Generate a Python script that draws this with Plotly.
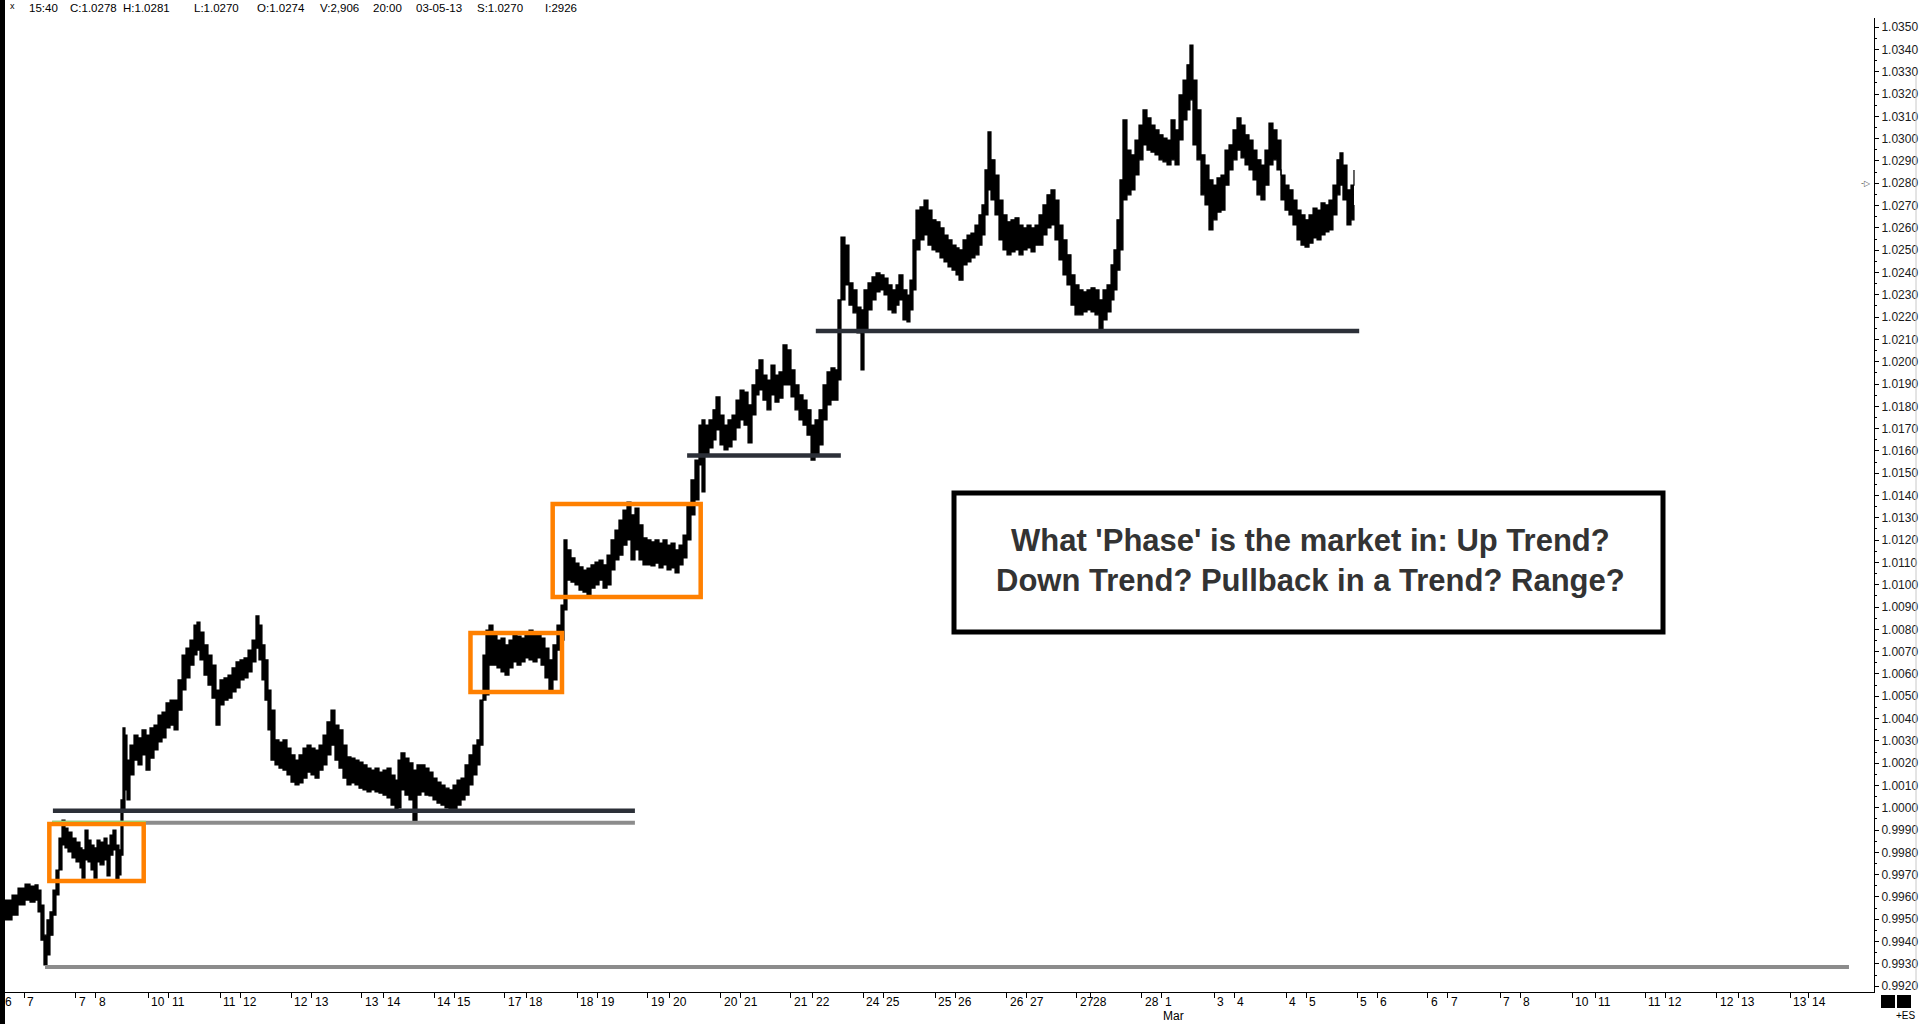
import plotly.graph_objects as go

# ---------------- data (time in trading days from start, prices) ----------------
T = [0.000,0.098,0.182,0.280,0.350,0.420,0.462,0.503,0.545,0.587,
     0.629,0.671,0.713,0.755,0.797,0.839,0.881,0.937,0.993,1.049,
     1.077,1.119,1.161,1.203,1.245,1.287,1.329,1.385,1.427,1.469,
     1.510,1.552,1.594,1.622,1.650,1.678,1.706,1.748,1.804,1.860,
     1.916,1.972,2.028,2.084,2.140,2.196,2.252,2.308,2.364,2.420,
     2.476,2.531,2.587,2.643,2.685,2.727,2.783,2.839,2.895,2.951,
     3.007,3.063,3.119,3.175,3.231,3.287,3.343,3.399,3.455,3.510,
     3.552,3.594,3.636,3.678,3.720,3.776,3.832,3.888,3.944,4.000,
     4.056,4.112,
     4.168,4.224,4.280,4.336,4.392,4.448,4.503,4.559,4.615,4.671,
     4.727,4.783,4.839,4.895,4.951,5.007,5.063,5.119,5.175,5.231,
     5.287,5.343,5.399,5.455,5.497,5.538,5.594,5.650,5.706,5.762,
     5.818,5.874,5.930,5.986,6.042,6.098,6.154,6.210,6.266,6.322,
     6.378,6.434,6.490,6.545,6.601,6.643,6.685,6.727,6.769,6.825,
     6.881,6.937,6.993,7.049,7.105,7.161,7.217,7.273,7.329,7.385,
     7.441,7.497,7.552,7.608,7.664,7.720,7.776,
     7.818,7.860,7.916,7.972,8.028,8.084,8.140,8.196,8.252,8.308,
     8.364,8.420,8.476,8.531,8.587,8.643,8.699,8.755,8.811,8.867,
     8.923,8.979,9.035,9.091,9.147,9.203,9.259,9.315,9.371,9.427,
     9.483,9.538,
     9.594,9.650,9.706,9.748,9.790,9.846,9.902,9.944,10.000,10.056,
     10.112,10.168,10.224,10.280,10.336,10.392,10.448,10.503,10.545,10.601,
     10.657,10.713,10.769,10.825,10.881,10.937,10.993,11.049,11.105,11.161,
     11.217,11.273,11.329,11.385,11.441,11.497,11.552,11.608,11.650,11.692,
     11.748,11.804,11.860,11.916,11.972,12.014,12.070,12.126,12.182,12.238,
     12.294,12.350,12.406,12.462,12.503,12.559,12.615,12.657,12.699,12.741,
     12.797,12.853,12.909,12.965,13.021,13.077,13.133,13.189,13.245,13.301,
     13.343,13.399,13.455,13.510,13.566,13.622,13.664,13.706,13.748,13.790,
     13.846,13.902,13.958,14.014,14.070,14.126,14.182,14.238,14.294,14.350,
     14.406,14.462,14.517,14.573,14.629,14.685,14.741,14.797,14.853,14.909,
     14.965,15.021,15.077,15.133,15.189,15.245,15.301,15.357,15.413,15.469,
     15.510,15.552,15.594,15.636,15.692,15.748,15.804,15.860,15.916,15.972,
     16.028,16.084,16.140,16.196,16.252,16.308,16.364,16.420,16.476,16.531,
     16.573,16.615,16.671,16.727,16.783,16.839,16.895,16.951,17.007,17.063,
     17.119,17.175,17.231,17.287,17.343,17.399,17.455,17.510,17.566,17.622,
     17.678,17.734,17.790,17.846,17.902,17.958,18.014,18.070,18.126,18.182,
     18.238,18.294,18.350,18.406,18.462,18.517,18.573,18.629,18.671,18.713,
     18.769,18.825,18.867]

HIGH = [0.99586,0.99609,0.99640,0.99658,0.99649,0.99654,0.99631,0.99564,0.99429,0.99497,
        0.99533,0.99631,0.99721,0.99864,0.99945,0.99909,0.99891,0.99864,0.99846,0.99820,
        0.99811,0.99900,0.99855,0.99833,0.99820,0.99855,0.99846,0.99864,0.99833,0.99878,
        0.99900,0.99833,0.99811,1.00035,1.00358,1.00326,1.00214,1.00281,1.00326,1.00313,
        1.00349,1.00326,1.00358,1.00371,1.00416,1.00429,1.00470,1.00483,1.00483,1.00573,
        1.00685,1.00716,1.00752,1.00819,1.00833,1.00788,1.00730,1.00685,1.00640,1.00528,
        1.00573,1.00582,1.00595,1.00627,1.00654,1.00663,1.00672,1.00707,1.00752,1.00860,
        1.00819,1.00730,1.00663,1.00528,1.00438,1.00304,1.00295,1.00304,1.00268,1.00237,
        1.00214,1.00237,
        1.00268,1.00281,1.00268,1.00259,1.00281,1.00326,1.00385,1.00438,1.00371,1.00349,
        1.00281,1.00228,1.00223,1.00214,1.00205,1.00192,1.00178,1.00169,1.00178,1.00160,
        1.00169,1.00178,1.00147,1.00124,1.00214,1.00246,1.00223,1.00201,1.00169,1.00192,
        1.00192,1.00178,1.00160,1.00133,1.00115,1.00102,1.00088,1.00080,1.00102,1.00124,
        1.00133,1.00192,1.00237,1.00281,1.00304,1.00483,1.00685,1.00797,1.00819,1.00775,
        1.00752,1.00761,1.00730,1.00752,1.00788,1.00770,1.00761,1.00788,1.00797,1.00775,
        1.00784,1.00761,1.00716,1.00663,1.00730,1.00819,1.00909,
        1.01201,1.01156,1.01120,1.01097,1.01080,1.01066,1.01075,1.01089,1.01102,1.01111,
        1.01089,1.01133,1.01201,1.01245,1.01290,1.01335,1.01371,1.01313,1.01344,1.01268,
        1.01210,1.01201,1.01192,1.01201,1.01187,1.01201,1.01178,1.01187,1.01156,1.01178,
        1.01223,1.01358,
        1.01470,1.01559,1.01716,1.01739,1.01716,1.01739,1.01784,1.01842,1.01761,1.01716,
        1.01739,1.01761,1.01828,1.01873,1.01864,1.01806,1.01896,1.01963,1.02008,1.01940,
        1.01918,1.01985,1.01940,1.01954,1.02075,1.02053,1.01963,1.01896,1.01851,1.01828,
        1.01784,1.01716,1.01739,1.01784,1.01896,1.01954,1.01972,1.01963,1.02277,1.02559,
        1.02523,1.02353,1.02322,1.02245,1.02232,1.02322,1.02353,1.02380,1.02398,1.02389,
        1.02375,1.02344,1.02322,1.02344,1.02389,1.02322,1.02299,1.02366,1.02546,1.02680,
        1.02694,1.02725,1.02680,1.02636,1.02627,1.02600,1.02568,1.02546,1.02523,1.02510,
        1.02501,1.02546,1.02568,1.02577,1.02613,1.02658,1.02703,1.02860,1.03030,1.02905,
        1.02837,1.02725,1.02658,1.02627,1.02636,1.02645,1.02613,1.02600,1.02613,1.02600,
        1.02613,1.02658,1.02703,1.02748,1.02770,1.02725,1.02613,1.02546,1.02479,1.02389,
        1.02344,1.02322,1.02313,1.02322,1.02331,1.02322,1.02277,1.02322,1.02344,1.02434,
        1.02501,1.02636,1.02815,1.03084,1.02949,1.02927,1.02994,1.03061,1.03129,1.03093,
        1.03061,1.03039,1.03017,1.03003,1.02994,1.03084,1.03039,1.03196,1.03263,1.03331,
        1.03420,1.03263,1.03129,1.02927,1.02882,1.02815,1.02792,1.02824,1.02837,1.02949,
        1.02972,1.03039,1.03093,1.03061,1.03017,1.02994,1.02949,1.02905,1.02882,1.02949,
        1.03070,1.03039,1.02994,1.02837,1.02792,1.02770,1.02725,1.02680,1.02658,1.02636,
        1.02658,1.02689,1.02680,1.02712,1.02703,1.02725,1.02792,1.02905,1.02936,1.02882,
        1.02770,1.02792,1.02860]

LOW = [0.99497,0.99519,0.99564,0.99586,0.99577,0.99586,0.99533,0.99407,0.99295,0.99340,
       0.99429,0.99519,0.99609,0.99721,0.99833,0.99820,0.99802,0.99775,0.99757,0.99730,
       0.99685,0.99766,0.99757,0.99721,0.99685,0.99757,0.99744,0.99766,0.99694,0.99788,
       0.99811,0.99667,0.99699,0.99788,0.99990,1.00080,1.00035,1.00147,1.00214,1.00192,
       1.00237,1.00169,1.00223,1.00259,1.00295,1.00313,1.00358,1.00371,1.00349,1.00438,
       1.00528,1.00582,1.00640,1.00685,1.00707,1.00663,1.00595,1.00550,1.00492,1.00371,
       1.00461,1.00483,1.00492,1.00519,1.00537,1.00573,1.00582,1.00609,1.00654,1.00716,
       1.00663,1.00573,1.00483,1.00349,1.00214,1.00192,1.00178,1.00169,1.00147,1.00115,
       1.00102,1.00111,
       1.00133,1.00160,1.00147,1.00133,1.00169,1.00192,1.00237,1.00281,1.00214,1.00178,
       1.00133,1.00102,1.00111,1.00102,1.00088,1.00080,1.00071,1.00080,1.00071,1.00066,
       1.00057,1.00044,1.00012,0.99990,0.99999,1.00080,1.00057,1.00035,0.99936,1.00057,
       1.00071,1.00057,1.00053,1.00035,1.00021,1.00012,0.99999,0.99981,0.99990,1.00012,
       1.00035,1.00057,1.00102,1.00147,1.00192,1.00281,1.00483,1.00506,1.00640,1.00640,
       1.00627,1.00609,1.00595,1.00627,1.00654,1.00640,1.00654,1.00672,1.00663,1.00654,
       1.00672,1.00640,1.00582,1.00528,1.00573,1.00707,1.00752,
       1.00887,1.01021,1.01012,1.00999,1.00976,1.00967,1.00945,1.00985,1.00999,1.01021,
       1.00985,1.00999,1.01066,1.01111,1.01133,1.01178,1.01201,1.01111,1.01156,1.01111,
       1.01089,1.01089,1.01084,1.01097,1.01075,1.01089,1.01066,1.01075,1.01053,1.01089,
       1.01120,1.01201,
       1.01313,1.01380,1.01537,1.01416,1.01582,1.01613,1.01649,1.01694,1.01627,1.01604,
       1.01618,1.01649,1.01703,1.01739,1.01716,1.01636,1.01761,1.01851,1.01873,1.01828,
       1.01784,1.01851,1.01819,1.01837,1.01896,1.01896,1.01842,1.01784,1.01739,1.01716,
       1.01671,1.01559,1.01582,1.01627,1.01739,1.01806,1.01828,1.01828,1.01918,1.02277,
       1.02344,1.02254,1.02219,1.02129,1.01963,1.02142,1.02232,1.02277,1.02313,1.02322,
       1.02299,1.02232,1.02219,1.02254,1.02277,1.02187,1.02178,1.02232,1.02322,1.02501,
       1.02546,1.02568,1.02523,1.02501,1.02492,1.02465,1.02447,1.02425,1.02411,1.02389,
       1.02366,1.02434,1.02447,1.02465,1.02479,1.02523,1.02568,1.02658,1.02770,1.02725,
       1.02658,1.02546,1.02501,1.02479,1.02492,1.02501,1.02479,1.02501,1.02510,1.02492,
       1.02523,1.02523,1.02568,1.02600,1.02613,1.02546,1.02456,1.02389,1.02344,1.02254,
       1.02210,1.02210,1.02223,1.02232,1.02223,1.02210,1.02133,1.02187,1.02223,1.02277,
       1.02322,1.02411,1.02501,1.02725,1.02748,1.02770,1.02837,1.02905,1.02972,1.02949,
       1.02940,1.02927,1.02905,1.02896,1.02882,1.02905,1.02882,1.02994,1.03084,1.03129,
       1.03174,1.02972,1.02905,1.02748,1.02703,1.02591,1.02636,1.02671,1.02680,1.02792,
       1.02860,1.02905,1.02949,1.02914,1.02882,1.02860,1.02815,1.02748,1.02725,1.02792,
       1.02882,1.02905,1.02860,1.02725,1.02680,1.02658,1.02613,1.02546,1.02523,1.02514,
       1.02532,1.02555,1.02546,1.02568,1.02582,1.02591,1.02658,1.02748,1.02792,1.02725,
       1.02613,1.02636,1.02703]

# session boundary ticks (day positions) and their date labels
SESSION_END = [-0.04, 0.99, 2.00, 3.01, 4.00, 4.99, 6.00, 6.99, 8.00, 8.99,
               10.01, 10.99, 12.00, 13.01, 14.01, 14.99, 15.90, 16.91, 17.92, 18.91,
               19.90, 20.91, 21.92, 22.94, 23.94, 24.97]
SESSION_START = [0.27, 1.27, 2.29, 3.29, 4.29, 5.30, 6.28, 7.29, 8.29, 9.30,
                 10.29, 11.30, 12.28, 13.29, 14.29, 15.18, 16.18, 17.19, 18.20, 19.19,
                 20.18, 21.19, 22.24, 23.22, 24.24, 25.23]
END_LABELS = ["6", "7", "10", "11", "12", "13", "14", "17", "18", "19", "20", "21", "24",
              "25", "26", "27", "28", "3", "4", "5", "6", "7", "10", "11", "12", "13"]
START_LABELS = ["7", "8", "11", "12", "13", "14", "15", "18", "19", "20", "21", "22", "25",
                "26", "27", "28", "1", "4", "5", "6", "7", "8", "11", "12", "13", "14"]
MONTH_LABEL = ("Mar", 16)  # placed under START_LABELS[16]

# horizontal support levels: (start day, end day, price, style)
LEVELS = [
    (0.56, 25.79, 0.99286, "gray"),
    (0.66, 8.81, 0.99933, "gray"),
    (0.66, 1.97, 0.99933, "green"),
    (0.67, 8.81, 0.99987, "dark"),
    (9.54, 11.69, 1.01579, "dark"),
    (11.34, 18.94, 1.02138, "dark"),
]
# orange consolidation boxes: (start day, end day, low price, high price)
BOXES = [
    (0.62, 1.94, 0.99672, 0.99927),
    (6.51, 7.79, 1.00519, 1.00784),
    (7.66, 9.73, 1.00945, 1.01362),
]

HEADER = [("15:40", 27), ("C:1.0278", 68), ("H:1.0281", 121), ("L:1.0270", 192),
          ("O:1.0274", 255), ("V:2,906", 318), ("20:00", 371), ("03-05-13", 414),
          ("S:1.0270", 475), ("I:2926", 543)]
LAST_PRICE = 1.0280
QUESTION = "What 'Phase' is the market in: Up Trend?<br>Down Trend? Pullback in a Trend? Range?"

# ---------------- figure ----------------
W, H = 1920, 1024
ML, MR, MT, MB = 0, 46, 18, 32
PW, PH = W - ML - MR, H - MT - MB

n = min(len(T), len(HIGH), len(LOW))
T, HIGH, LOW = T[:n], HIGH[:n], LOW[:n]

fig = go.Figure()
fig.add_trace(go.Scatter(x=T, y=LOW, mode="lines", line=dict(color="black", width=1.2, shape="hv"),
                         hoverinfo="skip", showlegend=False))
fig.add_trace(go.Scatter(x=T, y=HIGH, mode="lines", line=dict(color="black", width=1.2, shape="hv"),
                         fill="tonexty", fillcolor="black", hoverinfo="skip", showlegend=False))

style = {"gray": dict(color="#8c8c8c", width=4),
         "green": dict(color="#86e486", width=4),
         "dark": dict(color="#2c3038", width=4.5)}
shapes = []
for x0, x1, p, s in LEVELS:
    shapes.append(dict(type="line", xref="x", yref="y", x0=x0, x1=x1, y0=p, y1=p,
                       line=style[s], layer="above"))
for x0, x1, lo, hi in BOXES:
    shapes.append(dict(type="rect", xref="x", yref="y", x0=x0, x1=x1, y0=lo, y1=hi,
                       line=dict(color="#ff8000", width=4.5), fillcolor="rgba(0,0,0,0)",
                       layer="above"))

def px_x(px):
    return (px - ML) / PW

def px_y(py):
    return (H - MB - py) / PH

# left black strip
shapes.append(dict(type="rect", xref="paper", yref="paper", x0=px_x(0), x1=px_x(5),
                   y0=px_y(H), y1=px_y(0), fillcolor="black", line=dict(width=0)))
# question box
shapes.append(dict(type="rect", xref="paper", yref="paper", x0=px_x(954), x1=px_x(1663),
                   y0=px_y(632), y1=px_y(493), fillcolor="white",
                   line=dict(color="black", width=5), layer="above"))
# bottom-right squares and right border
shapes.append(dict(type="rect", xref="paper", yref="paper", x0=px_x(1881), x1=px_x(1895),
                   y0=px_y(1008), y1=px_y(995), fillcolor="black", line=dict(width=0)))
shapes.append(dict(type="rect", xref="paper", yref="paper", x0=px_x(1897), x1=px_x(1911),
                   y0=px_y(1008), y1=px_y(995), fillcolor="black", line=dict(width=0)))
shapes.append(dict(type="line", xref="paper", yref="paper", x0=px_x(1916), x1=px_x(1916),
                   y0=px_y(990), y1=px_y(75), line=dict(color="#c8c8c8", width=1)))

font_small = "Liberation Sans, Arial"
annotations = []
for txt, xp in HEADER:
    annotations.append(dict(text=txt, xref="paper", yref="paper", x=px_x(xp), y=px_y(8),
                            xanchor="left", yanchor="middle", showarrow=False,
                            font=dict(family=font_small, size=11.5, color="black")))
annotations.append(dict(text="x", xref="paper", yref="paper", x=px_x(8), y=px_y(6),
                        xanchor="left", yanchor="middle", showarrow=False,
                        font=dict(family=font_small, size=9, color="black")))

for pos, lab in zip(SESSION_END, END_LABELS):
    annotations.append(dict(text=lab, xref="x", yref="paper", x=pos, y=0, xanchor="left",
                            yanchor="top", xshift=1, yshift=-1, showarrow=False,
                            font=dict(family=font_small, size=12, color="black")))
for pos, lab in zip(SESSION_START, START_LABELS):
    annotations.append(dict(text=lab, xref="x", yref="paper", x=pos, y=0, xanchor="left",
                            yanchor="top", xshift=1, yshift=-1, showarrow=False,
                            font=dict(family=font_small, size=12, color="black")))
annotations.append(dict(text=MONTH_LABEL[0], xref="x", yref="paper",
                        x=SESSION_START[MONTH_LABEL[1]], y=0, xanchor="left", yanchor="top",
                        xshift=-1, yshift=-15, showarrow=False,
                        font=dict(family=font_small, size=12, color="black")))
annotations.append(dict(text="+ES", xref="paper", yref="paper", x=px_x(1894), y=px_y(1016),
                        xanchor="left", yanchor="middle", showarrow=False,
                        font=dict(family=font_small, size=10, color="black")))
annotations.append(dict(text="-▷", xref="paper", yref="y", x=1, y=LAST_PRICE,
                        xanchor="right", yanchor="middle", xshift=-1, showarrow=False,
                        font=dict(family="DejaVu Sans", size=8, color="#555555")))
annotations.append(dict(text=QUESTION, xref="paper", yref="paper",
                        x=px_x(1310), y=px_y(560), xanchor="center", yanchor="middle",
                        showarrow=False, align="center",
                        font=dict(family="Liberation Sans, Arial", size=31, color="#333333",
                                  weight="bold")))

fig.update_layout(
    width=W, height=H,
    margin=dict(l=ML, r=MR, t=MT, b=MB, pad=0),
    paper_bgcolor="white", plot_bgcolor="white",
    showlegend=False,
    shapes=shapes, annotations=annotations,
    xaxis=dict(range=[-0.07, 26.14], showgrid=False, zeroline=False,
               showline=True, linecolor="black", linewidth=1,
               tickvals=sorted(SESSION_END + SESSION_START), showticklabels=False,
               ticks="outside", ticklen=5, tickcolor="black", tickwidth=1),
    yaxis=dict(range=[0.99174, 1.03541], side="right", showgrid=False, zeroline=False,
               showline=True, linecolor="black", linewidth=1,
               tick0=0.992, dtick=0.001, tickformat=".4f",
               ticks="outside", ticklen=4, tickcolor="black", tickwidth=1,
               tickfont=dict(family="Liberation Sans, Arial", size=12, color="#1a1a1a"),
               minor=dict(dtick=0.0005, ticks="outside", ticklen=2, tickcolor="black",
                          showgrid=False)),
)

fig.write_html("out.html", config={"displayModeBar": False},
               post_script="document.body.style.margin='0px';"
                           "document.body.style.overflow='hidden';")
